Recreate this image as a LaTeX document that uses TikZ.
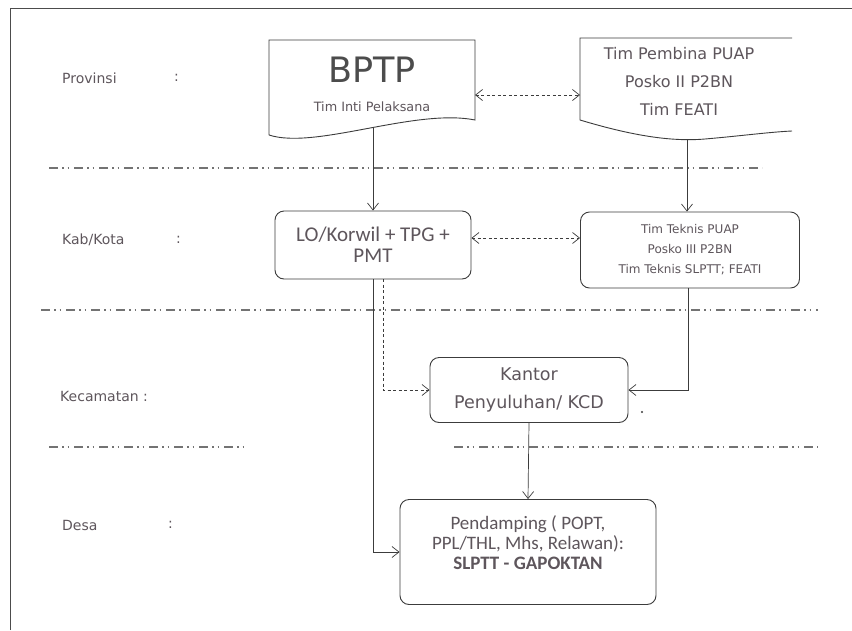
\documentclass[tikz,border=0pt]{standalone}
\usepackage{fontspec}
\setmainfont{Carlito}
\newfontfamily\dv{DejaVu Sans}
\usetikzlibrary{arrows.meta}
\definecolor{txt}{HTML}{5E565C}
\definecolor{ln}{HTML}{3C3C3C}
\begin{document}
\begin{tikzpicture}[x=1pt,y=-1pt,
  arr/.style={-{Straight Barb[length=7pt,width=11pt]}, line width=0.7pt, draw=ln},
  darr/.style={{Straight Barb[length=7pt,width=11pt]}-{Straight Barb[length=7pt,width=11pt]}, line width=0.7pt, draw=ln, dash pattern=on 3pt off 2.5pt},
  dashd/.style={dash pattern=on 3pt off 2.5pt},
  rbox/.style={draw=ln, line width=0.9pt, rounded corners=9pt, align=center, text=txt, inner sep=0pt},
  docline/.style={draw=ln, line width=0.9pt},
  sep/.style={draw=black!55, line width=1.8pt, dash pattern=on 9pt off 4pt on 1.5pt off 4pt on 1.5pt off 5pt},
  lab/.style={text=txt, font=\dv\fontsize{14}{16}\selectfont, anchor=west, inner sep=0pt},
  plain/.style={text=txt, align=center, inner sep=0pt}]
\useasboundingbox (0,0) rectangle (852,630);
\fill[white] (0,0) rectangle (852,630);
% frame
\draw[line width=1pt, black!70] (10,630) -- (10,8) -- (852,8);

% level labels
\node[lab] (lprov) at (62,78) {Provinsi};
\node[lab] (cprov) at (174,78) {:};
\node[lab] (lkab) at (62,240) {Kab/Kota};
\node[lab] (ckab) at (176,240) {:};
\node[lab] (lkec) at (60,396) {Kecamatan :};
\node[lab] (ldes) at (62,525) {Desa};
\node[lab] (cdes) at (168,525) {:};

% separators
\coordinate (s1a) at (49,168); \coordinate (s1b) at (762,168);
\coordinate (s2a) at (41,310); \coordinate (s2b) at (818,310);
\coordinate (s3a) at (49,447); \coordinate (s3b) at (247,447);
\coordinate (s3c) at (454,447); \coordinate (s3d) at (818,447);
\draw[sep] (s1a) -- (s1b);
\draw[sep] (s2a) -- (s2b);
\draw[sep] (s3a) -- (s3b);
\draw[sep] (s3c) -- (s3d);

% BPTP document shape
\draw[docline] (269,135) -- (269,40) -- (475,40) -- (475,120)
  .. controls (415,108) and (315,150) .. (269,135);
\node[plain, font=\dv\fontsize{35}{38}\selectfont, text=black!70] (bptp) at (372,70) {BPTP};
\node[plain, font=\dv\fontsize{12.8}{16}\selectfont] (tip) at (372,107) {Tim Inti Pelaksana};
\coordinate (bptpb) at (373,128);
\coordinate (bptpe) at (475,95);

% right document shape (cut off at the right)
\draw[docline] (792,38) -- (580,38) -- (580,120)
  .. controls (630,135) and (670,142) .. (705,139)
  .. controls (740,136) and (770,132) .. (792,131);
\node[plain, font=\dv\fontsize{16}{28}\selectfont] (pem) at (679,81) {Tim Pembina PUAP\\Posko II P2BN\\Tim FEATI};
\coordinate (pemw) at (580,95);
\coordinate (pemb) at (687,139);

% Kab/Kota boxes
\node[rbox, minimum width=196pt, minimum height=68pt, font=\fontsize{21}{21}\selectfont] (lo) at (373,245) {LO/Korwil + TPG +\\PMT};
\node[rbox, minimum width=219pt, minimum height=76pt, font=\dv\fontsize{12}{20}\selectfont] (tt) at (690,250) {Tim Teknis PUAP\\Posko III P2BN\\Tim Teknis SLPTT; FEATI};

% Kecamatan box
\node[rbox, minimum width=198pt, minimum height=65pt, font=\dv\fontsize{17.5}{28}\selectfont] (kt) at (529,390) {Kantor\\Penyuluhan/ KCD};
\fill[ln] (642,412) circle (1.2pt);

% Desa box
\node[rbox, minimum width=256pt, minimum height=105pt] (pd) at (528,552) {};
\node[plain, font=\fontsize{19}{20}\selectfont] (pdt) at (528,543) {Pendamping ( POPT,\\PPL/THL, Mhs, Relawan):\\\textbf{SLPTT - GAPOKTAN}};

% connectors
\draw[arr] (bptpb) -- (lo.north);
\draw[arr] (pemb) -- (pemb |- tt.north);
\draw[darr] (bptpe) -- (pemw);
\draw[darr] (lo.east |- 0,238) -- (tt.west |- 0,238);
\coordinate (lod) at (383,279);
\coordinate (ttd) at (688,288);
\draw[arr, dashd] (lod) |- (kt.west);
\draw[arr] (ttd) |- (kt.east);
\draw[arr] (lo.south) |- (pd.west);
\draw[arr] (kt.south) -- (pd.north);
\end{tikzpicture}
\end{document}
